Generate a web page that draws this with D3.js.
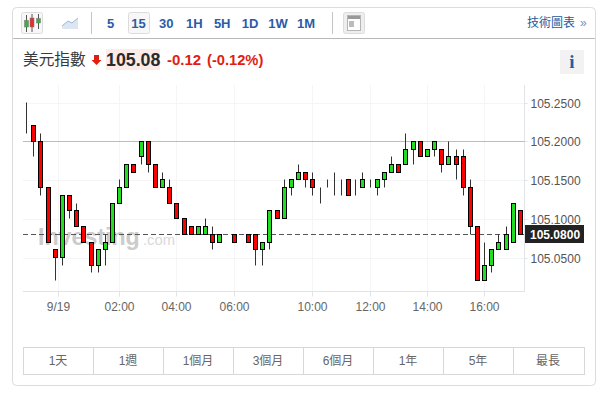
<!DOCTYPE html>
<html><head><meta charset="utf-8">
<script src="https://cdn.jsdelivr.net/npm/d3@7/dist/d3.min.js"></script>
<style>
html,body{margin:0;padding:0;background:#fff}
svg{display:block}
text{font-family:"Liberation Sans","Noto Sans CJK TC",sans-serif}
</style></head><body><div id="c"></div>
<script>
const opens =[105.21,105.22,105.20,105.14,105.06,105.05,105.13,105.11,105.09,105.07,105.04,105.06,105.07,105.12,105.14,105.17,105.18,105.20,105.17,105.14,105.14,105.12,105.10,105.09,105.08,105.08,105.08,105.07,105.08,105.08,105.08,105.08,105.08,105.06,105.07,105.11,105.10,105.14,105.15,105.16,105.15,105.13,105.14,105.14,105.14,105.15,105.14,105.14,105.15,105.14,105.15,105.16,105.17,105.17,105.19,105.20,105.18,105.19,105.19,105.17,105.18,105.18,105.14,105.09,105.02,105.04,105.06,105.06,105.07,105.11];
const highs =[105.25,105.22,105.21,105.14,105.06,105.13,105.13,105.12,105.09,105.07,105.06,105.08,105.12,105.15,105.17,105.17,105.20,105.20,105.17,105.16,105.15,105.12,105.10,105.09,105.09,105.10,105.09,105.08,105.08,105.08,105.08,105.08,105.08,105.07,105.11,105.11,105.15,105.15,105.17,105.16,105.16,105.14,105.15,105.16,105.15,105.15,105.15,105.16,105.15,105.15,105.16,105.18,105.17,105.21,105.20,105.20,105.19,105.20,105.19,105.20,105.19,105.19,105.15,105.09,105.07,105.06,105.08,105.09,105.12,105.11];
const lows  =[105.21,105.18,105.13,105.07,105.02,105.04,105.10,105.09,105.07,105.03,105.03,105.04,105.07,105.12,105.14,105.16,105.17,105.16,105.14,105.14,105.12,105.10,105.08,105.08,105.08,105.08,105.06,105.07,105.08,105.07,105.08,105.07,105.04,105.04,105.06,105.10,105.10,105.13,105.15,105.14,105.13,105.12,105.14,105.13,105.13,105.13,105.13,105.14,105.14,105.13,105.14,105.16,105.16,105.17,105.17,105.18,105.18,105.18,105.16,105.17,105.15,105.13,105.08,105.02,105.02,105.03,105.06,105.06,105.07,105.08];
const closes=[105.21,105.20,105.14,105.07,105.05,105.13,105.11,105.09,105.07,105.04,105.06,105.07,105.12,105.14,105.17,105.16,105.20,105.17,105.14,105.15,105.12,105.10,105.08,105.08,105.09,105.09,105.07,105.08,105.08,105.07,105.08,105.07,105.06,105.07,105.11,105.10,105.14,105.15,105.16,105.15,105.14,105.13,105.14,105.14,105.14,105.13,105.14,105.15,105.15,105.15,105.16,105.17,105.16,105.19,105.20,105.18,105.19,105.20,105.17,105.18,105.17,105.14,105.09,105.02,105.04,105.06,105.07,105.08,105.12,105.08];
const yTicks=[105.25,105.20,105.15,105.10,105.05];
const xTickSlots=[4.45,13,21,29,40,48,56,64];
const xTickLabels=["9/19","02:00","04:00","06:00","10:00","12:00","14:00","16:00"];
const intervals=["5","15","30","1H","5H","1D","1W","1M"];
const ranges=["1天","1週","1個月","3個月","6個月","1年","5年","最長"];
const lastPrice=105.08, refLevel=105.20;

const svg=d3.select("#c").append("svg").attr("width",607).attr("height",394);
const L=23,R=524.5,T=85,B=291.5;
const x=d3.scaleLinear().domain([0,69]).range([26.65,520.41]);
const y=d3.scaleLinear().domain([105.25,105.05]).range([103,258]);
const px=i=>Math.floor(x(i))+.5, py=v=>Math.floor(y(v)-.5)+.5, gy=v=>Math.round(y(v)-.3)+.5;

// card
svg.append("rect").attr("x",12.5).attr("y",7.5).attr("width",583).attr("height",378).attr("rx",4).attr("fill","#fff").attr("stroke","#dcdcdc");
svg.append("line").attr("x1",13).attr("x2",595).attr("y1",38.5).attr("y2",38.5).attr("stroke","#b8b8b8");

// toolbar
const bar=svg.append("g");
function btn(xx,w,fill){bar.append("rect").attr("x",xx+.5).attr("y",12.5).attr("width",w).attr("height",21).attr("rx",2).attr("fill",fill).attr("stroke","#dcdcdc");}
btn(21,21,"#f7f7f7");
[[26.5,"#3fae3f",20.5,27,15,32],[32,"#e03030",18,27,14,32],[38.5,"#3fae3f",18.5,23,14,29]].forEach(d=>{
  bar.append("line").attr("x1",d[0]).attr("x2",d[0]).attr("y1",d[4]).attr("y2",d[5]).attr("stroke","#555");
  bar.append("rect").attr("x",d[0]-2).attr("y",d[2]).attr("width",4).attr("height",d[3]-d[2]).attr("fill",d[1]).attr("stroke","#777").attr("stroke-width",.5);
});
bar.append("path").attr("d","M62 26L68 21L72 23L78 18V29H62Z").attr("fill","#dce6f3").attr("stroke","none");
bar.append("path").attr("d","M62 26L68 21L72 23L78 18").attr("fill","none").attr("stroke","#9db7d6");
[91.5,332.5].forEach(v=>bar.append("line").attr("x1",v).attr("x2",v).attr("y1",12).attr("y2",34).attr("stroke","#c4c4c4"));
btn(128,21,"#f7f7f7");
const ivX=d3.scalePoint().domain(intervals).range([110.5,306]);
bar.selectAll("text.iv").data(intervals).join("text").attr("class","iv").attr("x",d=>ivX(d)).attr("y",27.5).attr("text-anchor","middle").attr("font-size",13).attr("font-weight","700").attr("fill","#2a5ca8").text(d=>d);
btn(343,21,"#eee");
bar.append("rect").attr("x",347.5).attr("y",15.5).attr("width",13).attr("height",15).attr("fill","#fff").attr("stroke","#b5b5b5");
bar.append("rect").attr("x",348).attr("y",16).attr("width",12).attr("height",3).attr("fill","#999");
bar.append("rect").attr("x",349).attr("y",21).attr("width",5).attr("height",6).attr("fill","#bbb");
bar.append("text").attr("x",527).attr("y",27).attr("font-size",12).attr("fill","#1a5a9e").text("技術圖表");
bar.append("text").attr("x",580).attr("y",27).attr("font-size",12).attr("fill","#6f93bf").text("»");

// header
svg.append("text").attr("x",23).attr("y",65).attr("font-size",15.7).attr("fill","#3a3a3a").text("美元指數");
svg.append("path").attr("d","M94 55H99V60H101.5L96.5 65L91.5 60H94Z").attr("fill","#e01e12");
svg.append("rect").attr("x",106).attr("y",49).attr("width",54).attr("height",21).attr("fill","#fcebe7");
svg.append("text").attr("x",106).attr("y",66).attr("font-size",17.8).attr("font-weight","700").attr("fill","#2a2a2a").text("105.08");
svg.append("text").attr("x",167).attr("y",65).attr("font-size",15).attr("font-weight","700").attr("fill","#e01e12").text("-0.12");
svg.append("text").attr("x",207).attr("y",65).attr("font-size",14.7).attr("font-weight","700").attr("fill","#e01e12").text("(-0.12%)");
svg.append("rect").attr("x",560).attr("y",50).attr("width",24).attr("height",24).attr("fill","#f2f2f2");
svg.append("text").attr("x",572).attr("y",68).attr("text-anchor","middle").attr("font-size",19).attr("font-weight","700").attr("style","font-family:'Liberation Serif',serif").attr("fill","#1f5fa8").text("i");

// grid
const grid=svg.append("g").attr("stroke","#f4f5f7");
grid.selectAll("line.h").data(yTicks).join("line").attr("class","h").attr("x1",L).attr("x2",R).attr("y1",d=>gy(d)).attr("y2",d=>gy(d));
grid.selectAll("line.v").data(xTickSlots).join("line").attr("class","v").attr("y1",T).attr("y2",B).attr("x1",d=>px(d)).attr("x2",d=>px(d));

// watermark
svg.append("text").attr("x",38).attr("y",245).attr("font-size",23.2).attr("font-weight","700").attr("fill","#cccccc").text("Investing");
svg.append("text").attr("x",143).attr("y",245).attr("font-size",14.8).attr("fill","#d9d9d9").text(".com");

// axes
const ax=svg.append("g").attr("transform",`translate(${R},0)`).call(d3.axisRight(y).tickValues(yTicks).tickSize(3).tickPadding(3).tickFormat(d3.format(".4f")));
ax.select(".domain").attr("d",`M0,${T}V${B}`).attr("stroke","#e0e3e8");
ax.selectAll(".tick").attr("transform",d=>`translate(0,${gy(d)})`);
ax.selectAll("line").attr("stroke","#e0e3e8");
ax.selectAll("text").attr("font-size",12).attr("fill","#555").attr("dy",".35em").attr("style",'font-family:"Liberation Sans"');
const xScaleTick=d3.scaleOrdinal().domain(xTickSlots).range(xTickLabels);
const bx=svg.append("g").attr("transform",`translate(0,${B})`).call(d3.axisBottom(x).tickValues(xTickSlots).tickSize(5).tickPadding(6).tickFormat(d=>xScaleTick(d)));
bx.select(".domain").attr("d",`M${L},0H${R}`).attr("stroke","#e0e3e8");
bx.selectAll(".tick").attr("transform",d=>`translate(${px(d)},0)`);
bx.selectAll("line").attr("stroke","#e0e3e8");
bx.selectAll("text").attr("font-size",12).attr("fill","#666").attr("style",'font-family:"Liberation Sans"');

// reference lines
svg.append("line").attr("x1",L).attr("x2",R).attr("y1",py(refLevel)).attr("y2",py(refLevel)).attr("stroke","#f5a3a3");
svg.append("line").attr("x1",L).attr("x2",R).attr("y1",py(lastPrice)).attr("y2",py(lastPrice)).attr("stroke","#555").attr("stroke-dasharray","5,3");

// candles
const idx=d3.range(opens.length);
const c=svg.append("g").selectAll("g").data(idx).join("g");
c.append("line").attr("x1",px).attr("x2",px).attr("y1",i=>py(highs[i])).attr("y2",i=>py(lows[i])).attr("stroke","#333");
c.append("rect").attr("x",i=>px(i)-2).attr("width",4)
 .attr("y",i=>py(Math.max(opens[i],closes[i])))
 .attr("height",i=>py(Math.min(opens[i],closes[i]))-py(Math.max(opens[i],closes[i])))
 .attr("fill",i=>closes[i]>opens[i]?"#22dd22":"#ff0000")
 .attr("stroke",i=>opens[i]===closes[i]?"#444":"#000");

// last price tag
svg.append("rect").attr("x",525).attr("y",225).attr("width",59).attr("height",18).attr("fill","#222");
svg.append("text").attr("x",530).attr("y",py(lastPrice)+4.5).attr("font-size",12).attr("font-weight","700").attr("fill","#fff").text(lastPrice.toFixed(4));

// range tabs
const tx=d3.scaleBand().domain(ranges).range([23,583]).round(true);
const tabs=svg.append("g");
tabs.selectAll("rect").data(ranges).join("rect").attr("x",d=>tx(d)+.5).attr("y",347.5).attr("width",(d,i)=>tx.bandwidth()+(i===ranges.length-1?1:0)).attr("height",27).attr("fill","#fff").attr("stroke","#d8d8d8");
tabs.selectAll("text").data(ranges).join("text").attr("x",d=>tx(d)+tx.bandwidth()/2).attr("y",365).attr("text-anchor","middle").attr("font-size",12).attr("fill","#666").text(d=>d);
</script></body></html>
